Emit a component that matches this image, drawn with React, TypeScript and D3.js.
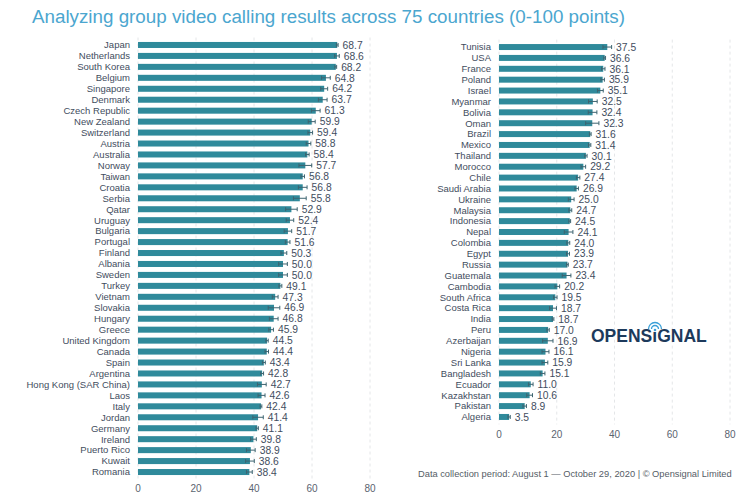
import React from "react";
import * as d3 from "d3";

const leftCountries = ["Japan","Netherlands","South Korea","Belgium","Singapore","Denmark","Czech Republic","New Zealand","Switzerland","Austria","Australia","Norway","Taiwan","Croatia","Serbia","Qatar","Uruguay","Bulgaria","Portugal","Finland","Albania","Sweden","Turkey","Vietnam","Slovakia","Hungary","Greece","United Kingdom","Canada","Spain","Argentina","Hong Kong (SAR China)","Laos","Italy","Jordan","Germany","Ireland","Puerto Rico","Kuwait","Romania"];
const leftValues = [68.7,68.6,68.2,64.8,64.2,63.7,61.3,59.9,59.4,58.8,58.4,57.7,56.8,56.8,55.8,52.9,52.4,51.7,51.6,50.3,50.0,50.0,49.1,47.3,46.9,46.8,45.9,44.5,44.4,43.4,42.8,42.7,42.6,42.4,41.4,41.1,39.8,38.9,38.6,38.4];
const leftErrors = [0.3,0.8,0.3,1.5,1.2,1.5,1.5,1.2,0.8,0.8,0.6,2.2,0.6,1.5,2.2,2.0,1.3,1.3,0.8,1.0,1.5,1.5,0.5,1.0,2.0,1.5,0.8,0.4,0.6,0.5,0.5,1.5,1.2,0.3,1.8,0.4,1.0,1.5,1.5,1.0];

const rightCountries = ["Tunisia","USA","France","Poland","Israel","Myanmar","Bolivia","Oman","Brazil","Mexico","Thailand","Morocco","Chile","Saudi Arabia","Ukraine","Malaysia","Indonesia","Nepal","Colombia","Egypt","Russia","Guatemala","Cambodia","South Africa","Costa Rica","India","Peru","Azerbaijan","Nigeria","Sri Lanka","Bangladesh","Ecuador","Kazakhstan","Pakistan","Algeria"];
const rightValues = [37.5,36.6,36.1,35.9,35.1,32.5,32.4,32.3,31.6,31.4,30.1,29.2,27.4,26.9,25.0,24.7,24.5,24.1,24.0,23.9,23.7,23.4,20.2,19.5,18.7,18.7,17.0,16.9,16.1,15.9,15.1,11.0,10.6,8.9,3.5];
const rightErrors = [1.5,0.3,0.6,0.6,1.0,1.5,1.5,2.3,0.3,0.4,0.4,0.8,0.6,0.6,1.0,0.5,0.3,1.5,0.5,0.5,0.3,1.5,0.8,0.6,1.2,0.3,0.4,1.8,1.2,1.0,0.8,0.8,1.0,0.6,0.4];

const xTicks = [0, 20, 40, 60, 80];

const titleText = "Analyzing group video calling results across 75 countries (0-100 points)";
const footerText = "Data collection period: August 1 \u2014 October 29, 2020 | \u00a9 Opensignal Limited";

const FONT = "'Liberation Sans', Arial, Helvetica, sans-serif";
const BAR = "#2f8a9b";
const WHISK = "#3d6470";
const TEXT = "#3f4d5e";

type PanelProps = {
  countries: string[];
  values: number[];
  errors: number[];
  x0: number;
  x1: number;
  yTop: number;
  yBottom: number;
  tickY: number;
  labelX: number;
};

function Panel({ countries, values, errors, x0, x1, yTop, yBottom, tickY, labelX }: PanelProps) {
  const x = d3.scaleLinear().domain([0, 80]).range([x0, x1]);
  const y = d3.scaleBand<string>().domain(countries).range([yTop, yBottom]).paddingInner(0.45).paddingOuter(0.225);
  const bw = y.bandwidth();
  return (
    <g>
      {xTicks.map((t) => (
        <line key={"g" + t} x1={x(t)} x2={x(t)} y1={yTop - 2} y2={yBottom + 2} stroke="#e4e6e8" strokeWidth={1} strokeDasharray="3,3" />
      ))}
      {countries.map((c, i) => {
        const v = values[i];
        const e = errors[i];
        const cy = (y(c) as number) + bw / 2;
        return (
          <g key={c}>
            <rect x={x(0)} y={y(c)} width={x(v) - x(0)} height={bw} fill={BAR} />
            <line x1={x(v - e)} x2={x(v + e)} y1={cy} y2={cy} stroke={WHISK} strokeWidth={1} />
            <line x1={x(v - e)} x2={x(v - e)} y1={cy - 2} y2={cy + 2} stroke={WHISK} strokeWidth={1} />
            <line x1={x(v + e)} x2={x(v + e)} y1={cy - 2} y2={cy + 2} stroke={WHISK} strokeWidth={1} />
            <text x={labelX} y={cy} dy="0.35em" textAnchor="end" fontSize={9.5} fill={TEXT} fontFamily={FONT}>{c}</text>
            <text x={x(v + e) + 4.5} y={cy} dy="0.36em" fontSize={10.3} fill={TEXT} fontFamily={FONT}>{v.toFixed(1)}</text>
          </g>
        );
      })}
      {xTicks.map((t) => (
        <text key={"t" + t} x={x(t)} y={tickY} textAnchor="middle" fontSize={10} fill="#5a6470" fontFamily={FONT}>{t}</text>
      ))}
    </g>
  );
}

export default function App() {
  return (
    <svg width={750} height={500} style={{ position: "absolute", left: 0, top: 0, background: "#ffffff" }}>
      <rect x={0} y={0} width={750} height={500} fill="#ffffff" />
      <text x={32} y={23} fontSize={18.8} fill="#4ba6cf" fontFamily={FONT}>{titleText}</text>
      <Panel countries={leftCountries} values={leftValues} errors={leftErrors} x0={138} x1={370} yTop={39.5} yBottom={477.5} tickY={492} labelX={130} />
      <Panel countries={rightCountries} values={rightValues} errors={rightErrors} x0={499} x1={730} yTop={41.6} yBottom={422.4} tickY={438} labelX={491} />
      <g>
        <text x={591} y={342} fontSize={17.5} fontWeight="bold" fill="#1d3a5c" fontFamily={FONT} letterSpacing={0}>OPENS{"\u0131"}GNAL</text>
        <path d="M655,329 m-3.5,0 a3.5,3.5 0 0,1 7,0" fill="none" stroke="#3aa0d8" strokeWidth={1.3} />
        <path d="M655,329 m-6.5,0 a6.5,6.5 0 0,1 13,0" fill="none" stroke="#3aa0d8" strokeWidth={1.3} />
        <circle cx={655} cy={330} r={1.3} fill="#3aa0d8" />
      </g>
      <text x={418} y={477} fontSize={9.3} fill="#555d66" fontFamily={FONT}>{footerText}</text>
    </svg>
  );
}
